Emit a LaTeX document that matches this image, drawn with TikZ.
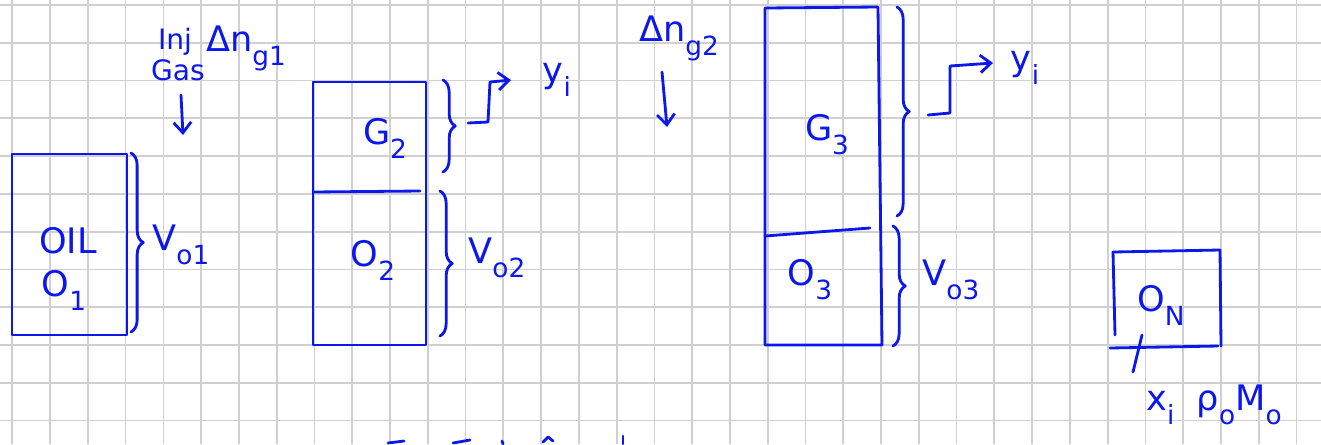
\documentclass[tikz,border=0pt]{standalone}
\usepackage{fontspec}
\setmainfont{DejaVu Sans}
\usetikzlibrary{decorations.pathreplacing,arrows.meta}
\definecolor{ink}{RGB}{12,24,235}
\definecolor{gridc}{RGB}{208,208,208}
\newcommand\lo[1]{\raisebox{-0.4em}{\fontsize{15}{17}\selectfont #1}}
\begin{document}
\begin{tikzpicture}[x=0.02cm,y=-0.02cm,
  pen/.style={draw=ink,line width=1.6pt,line cap=round,line join=round},
  lbl/.style={text=ink,font=\fontsize{20}{24}\selectfont,inner sep=0pt},
  small/.style={text=ink,font=\fontsize{16}{19}\selectfont,inner sep=0pt},
  brc/.style={pen,decorate,decoration={brace,amplitude=7pt}},
  arr/.style={pen,-{Straight Barb[length=6pt,width=10pt]}}]
\useasboundingbox (0,0) rectangle (1321,444);
\fill[white] (0,0) rectangle (1321,444);
% grid paper
\foreach \i in {0,...,34} \draw[gridc,line width=1pt] ({12.3+37.77*\i},0) -- ({12.3+37.77*\i},444);
\foreach \j in {0,...,11} \draw[gridc,line width=1pt] (0,{5+37.77*\j}) -- (1321,{5+37.77*\j});

% ---- box 1 : oil O1
\draw[pen] (12,154) rectangle (127,335);
\node[lbl] (oil) at (68,241) {OIL};
\node[lbl] (o1) at (64,290) {O\lo{1}};
\draw[brc] (131,153) -- (131,332);
\node[lbl,anchor=west] (vo1) at (152,245) {V\lo{o1}};

% injected gas
\node[small] (inj) at (175,42) {Inj};
\node[small] (gas) at (178,70) {Gas};
\node[lbl] (dng1) at (246,48) {Δn\lo{g1}};
\coordinate (a1s) at (181,95);
\coordinate (a1e) at (183,135);
\draw[arr] (a1s) -- (a1e);

% ---- box 2 : G2 / O2
\draw[pen] (313,82) rectangle (426,345);
\draw[pen] (313,192) -- (420,191);
\node[lbl] (g2) at (385,138) {G\lo{2}};
\node[lbl] (o2) at (373,260) {O\lo{2}};
\draw[brc] (443,80) -- (443,172);
\draw[brc] (440,191) -- (440,336);
\node[lbl,anchor=west] (vo2) at (468,258) {V\lo{o2}};
\coordinate (b2) at (468,123);
\node[lbl] (y2) at (557,80) {y\lo{i}};
\draw[arr] (b2) -- (488,122) -- (490,82) -- (511,80);

% Delta n g2
\node[lbl] (dng2) at (679,38) {Δn\lo{g2}};
\coordinate (a2s) at (662,72);
\coordinate (a2e) at (667,127);
\draw[arr] (a2s) -- (a2e);

% ---- box 3 : G3 / O3
\draw[pen] (765,8) -- (878,7) -- (882,345) -- (765,345) -- cycle;
\draw[pen] (765,236) -- (870,228);
\node[lbl] (g3) at (827,135) {G\lo{3}};
\node[lbl] (o3) at (810,280) {O\lo{3}};
\draw[brc] (897,7) -- (897,216);
\draw[brc] (893,226) -- (893,346);
\node[lbl,anchor=west] (vo3) at (922,280) {V\lo{o3}};
\coordinate (b3) at (928,115);
\node[lbl] (y3) at (1025,68) {y\lo{i}};
\draw[arr] (b3) -- (950,113) -- (950,66) -- (993,63);

% ---- box N
\draw[pen] (1113,252) -- (1220,250) -- (1221,346);
\draw[pen] (1113,252) -- (1115,335);
\draw[pen] (1110,348) -- (1218,346);
\node[lbl] (on) at (1161,305) {O\lo{N}};
\coordinate (t1) at (1142,335);
\coordinate (t2) at (1133,372);
\draw[pen] (t1) -- (t2);
\node[lbl] (xrm) at (1214,405) {x\lo{i} \ ρ\lo{o}M\lo{o}};

% fragments at the lower edge
\draw[pen] (388,443) -- (404,441);
\draw[pen] (453,443) -- (470,440);
\draw[pen] (502,441) -- (503,444);
\draw[pen] (543,442) -- (548,437) -- (553,441);
\draw[pen] (623,436) -- (623,444);
\end{tikzpicture}
\end{document}
